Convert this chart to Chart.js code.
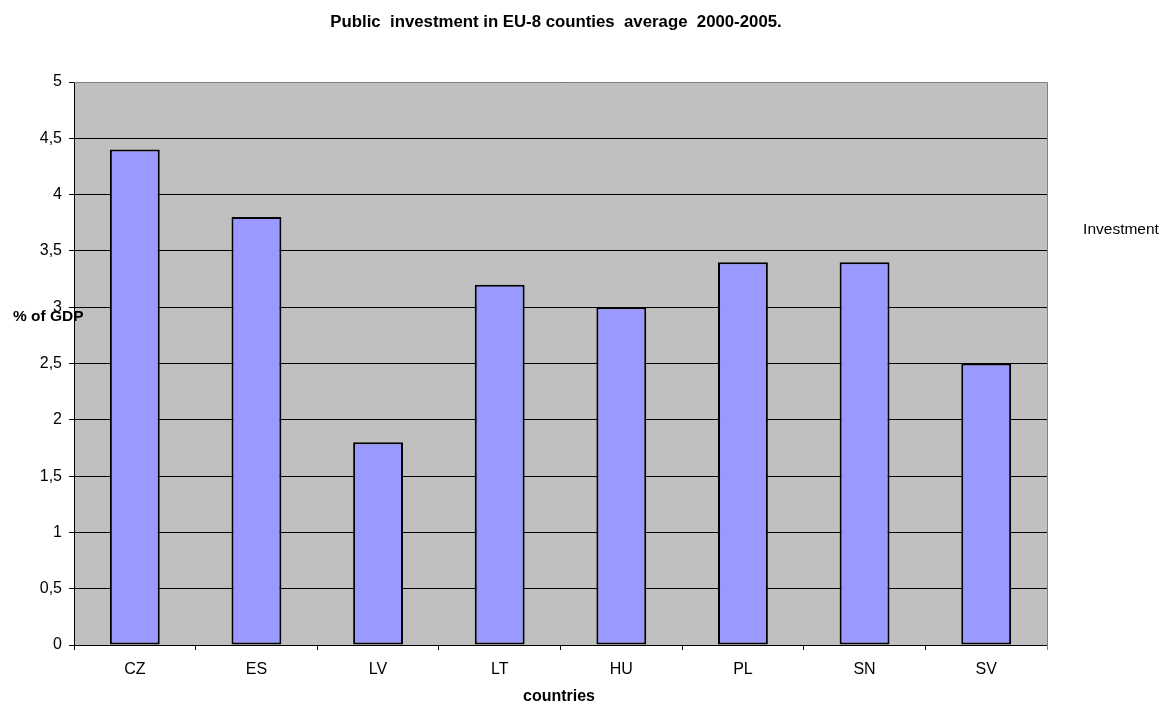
<!DOCTYPE html>
<html><head><meta charset="utf-8">
<script src="https://cdn.jsdelivr.net/npm/chart.js@4"></script>
<style>html,body{margin:0;padding:0;background:#fff}#wrap{width:1168px;height:704px}</style>
</head><body><div id="wrap"><canvas id="c" width="1168" height="704"></canvas></div>
<script>
const categories = ["CZ","ES","LV","LT","HU","PL","SN","SV"];
const investment = [4.4,3.8,1.8,3.2,3.0,3.4,3.4,2.5];
const yTicks = ["0","0,5","1","1,5","2","2,5","3","3,5","4","4,5","5"];
const titleText = "Public  investment in EU-8 counties  average  2000-2005.";
const xTitle = "countries";
const yTitle = "% of GDP";
const seriesName = "Investment";

const FONT = "'Liberation Sans', Arial, sans-serif";

const bgPlugin = {
  id: 'bg',
  beforeDraw(chart) {
    const {ctx, chartArea: a} = chart;
    ctx.save();
    ctx.fillStyle = '#fff';
    ctx.fillRect(0,0,chart.width,chart.height);
    ctx.fillStyle = '#C0C0C0';
    ctx.fillRect(a.left, a.top, a.right - a.left, a.bottom - a.top);
    ctx.restore();
  },
  afterDraw(chart) {
    const {ctx, chartArea: a} = chart;
    ctx.save();
    ctx.strokeStyle = '#808080';
    ctx.lineWidth = 1;
    ctx.beginPath();
    ctx.moveTo(a.left, a.top + 0.5); ctx.lineTo(a.right + 0.5, a.top + 0.5);
    ctx.lineTo(a.right + 0.5, a.bottom + 5);
    ctx.stroke();
    ctx.fillStyle = '#000';
    ctx.textAlign = 'center';
    ctx.textBaseline = 'middle';
    ctx.font = 'bold 16.8px ' + FONT;
    ctx.fillText(titleText, 556, 22);
    ctx.font = 'bold 16px ' + FONT;
    ctx.fillText(xTitle, 559, 697);
    ctx.textAlign = 'left';
    ctx.font = 'bold 15.5px ' + FONT;
    ctx.fillText(yTitle, 13, 317);
    ctx.textAlign = 'center';
    ctx.font = '15.5px ' + FONT;
    ctx.fillText(seriesName, 1121, 230);
    ctx.restore();
  }
};

new Chart(document.getElementById('c'), {
  type: 'bar',
  data: {
    labels: categories,
    datasets: [{
      label: seriesName,
      data: investment,
      backgroundColor: '#9999FF',
      borderColor: '#000',
      borderWidth: 2,
      borderSkipped: false,
      categoryPercentage: 0.41,
      barPercentage: 1.0
    }]
  },
  options: {
    responsive: false,
    animation: false,
    devicePixelRatio: 1,
    layout: { padding: { left: 0, right: 121, top: 82, bottom: 0 } },
    plugins: { legend: { display: false }, title: { display: false }, tooltip: { enabled: false } },
    scales: {
      x: {
        afterFit(s) { s.height = 59; },
        grid: { display: true, drawOnChartArea: false, drawTicks: true, tickLength: 5, color: '#000', offset: true },
        border: { display: true, color: '#000', width: 1 },
        ticks: { color: '#000', font: { family: FONT, size: 16 }, padding: 10 }
      },
      y: {
        min: 0, max: 5,
        afterFit(s) { s.width = 74; },
        grid: { display: true, color: '#000', lineWidth: 1, tickLength: 5, drawTicks: true },
        border: { display: true, color: '#000', width: 1 },
        ticks: {
          stepSize: 0.5, color: '#000', font: { family: FONT, size: 16 }, padding: 7,
          callback: (v) => yTicks[Math.round(v * 2)]
        }
      }
    }
  },
  plugins: [bgPlugin]
});
</script>
</body></html>
